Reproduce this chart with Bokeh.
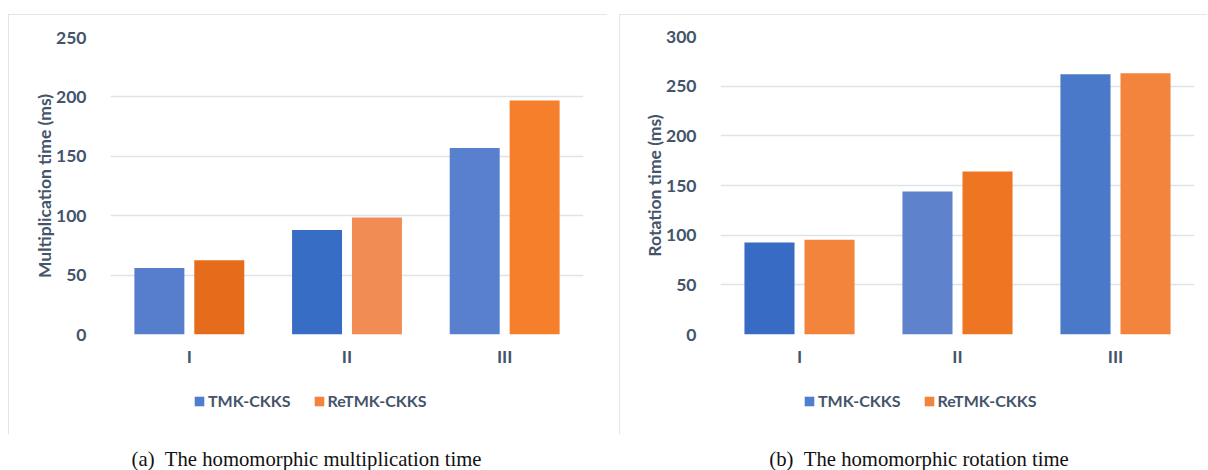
from bokeh.plotting import figure
from bokeh.models import (ColumnDataSource, FactorRange, Legend, LegendItem,
                          Label, FixedTicker)
from bokeh.transform import dodge
from bokeh.layouts import row, column
from bokeh.embed import file_html
from bokeh.resources import INLINE

# ---- data ----
categories = ["I", "II", "III"]
series_names = ["TMK-CKKS", "ReTMK-CKKS"]
mult_tmk = [56, 88, 157]
mult_retmk = [62.5, 98.5, 197]
rot_tmk = [92.5, 144, 262]
rot_retmk = [95.5, 164, 263]
mult_ticks = [0, 50, 100, 150, 200, 250]
rot_ticks = [0, 50, 100, 150, 200, 250, 300]
mult_ylabel = "Multiplication time (ms)"
rot_ylabel = "Rotation time (ms)"
mult_caption = "(a)\u00a0\u00a0The homomorphic multiplication time"
rot_caption = "(b)\u00a0\u00a0The homomorphic rotation time"

# ---- styles ----
TXT = "#44546A"
GRID = "#DEE2E9"
FONT = "Lato"
FSIZE = "17.5px"
LEG_FSIZE = "16px"
mult_blue = ["#577ECC", "#386DC5", "#5880CE"]
mult_orange = ["#E56C1A", "#F28C55", "#F57F2B"]
rot_blue = ["#386CC4", "#5E82CB", "#4B79C9"]
rot_orange = ["#F3843B", "#EE7622", "#F3843D"]
LEG_BLUE = "#4F7ECF"
LEG_ORANGE = "#F3843D"
BOX_STYLE = {"outline": "1.5px solid #DADEE5", "outline-offset": "-1.5px"}
MAIN_H = 360     # chart part of the box (page y 14..374)
LEG_H = 60       # legend strip inside the box (page y 374..434)


def chart(tmk, retmk, ticks, ylabel, blues, oranges,
          width, left_border, top_border, frame_w, frame_h):
    src = ColumnDataSource(dict(cat=categories, tmk=tmk, retmk=retmk,
                                cb=blues, co=oranges))
    p = figure(x_range=FactorRange(*categories), y_range=(0, ticks[-1]),
               frame_width=frame_w, frame_height=frame_h,
               min_border_left=left_border,
               min_border_right=width - left_border - frame_w,
               min_border_top=top_border,
               min_border_bottom=MAIN_H - top_border - frame_h,
               output_backend="svg", toolbar_location=None)
    p.outline_line_color = None
    p.vbar(x=dodge("cat", -0.19, range=p.x_range), top="tmk", width=0.317,
           source=src, fill_color="cb", line_color=None)
    p.vbar(x=dodge("cat", 0.19, range=p.x_range), top="retmk", width=0.317,
           source=src, fill_color="co", line_color=None)

    p.yaxis.ticker = FixedTicker(ticks=ticks)
    p.yaxis.axis_label = ylabel
    p.yaxis.axis_label_text_font = FONT
    p.yaxis.axis_label_text_font_style = "bold"
    p.yaxis.axis_label_text_font_size = FSIZE
    p.yaxis.axis_label_text_color = TXT
    p.yaxis.axis_label_standoff = -2
    for ax in (p.xaxis, p.yaxis):
        ax.axis_line_color = None
        ax.major_tick_line_color = None
        ax.minor_tick_line_color = None
        ax.major_label_text_font = FONT
        ax.major_label_text_font_style = "bold"
        ax.major_label_text_font_size = FSIZE
        ax.major_label_text_color = TXT
    p.yaxis.major_label_standoff = 18
    p.xaxis.major_label_standoff = 5
    p.xgrid.grid_line_color = None
    p.ygrid.grid_line_color = GRID
    p.ygrid.grid_line_width = 1.5
    return p


def legend_fig(width, leg_x):
    f = figure(frame_width=width, frame_height=LEG_H, x_range=(0, 1), y_range=(0, 1),
               min_border=0, x_axis_type=None, y_axis_type=None,
               output_backend="svg", toolbar_location=None)
    f.outline_line_color = None
    f.grid.visible = False
    # proxy renderers whose single point lies outside the visible range
    proxy = ColumnDataSource(dict(x=[5], top=[5]))
    r1 = f.vbar(x="x", top="top", width=0.1, source=proxy,
                fill_color=LEG_BLUE, line_color=None)
    r2 = f.vbar(x="x", top="top", width=0.1, source=proxy,
                fill_color=LEG_ORANGE, line_color=None)
    leg = Legend(items=[LegendItem(label=series_names[0], renderers=[r1]),
                        LegendItem(label=series_names[1], renderers=[r2])],
                 orientation="horizontal", location=(leg_x, 24),
                 border_line_color=None, background_fill_alpha=0,
                 label_text_font=FONT, label_text_font_style="bold",
                 label_text_font_size=LEG_FSIZE, label_text_color=TXT,
                 glyph_width=12, glyph_height=12, label_standoff=3,
                 spacing=22, padding=0, margin=0)
    f.add_layout(leg)
    return f


def caption_fig(text, width, margin_left, cx):
    c = figure(frame_width=width, frame_height=36, x_range=(0, width), y_range=(0, 36),
               min_border=0, x_axis_type=None, y_axis_type=None,
               output_backend="svg", toolbar_location=None)
    c.margin = (0, 0, 0, margin_left)
    c.grid.visible = False
    c.outline_line_color = None
    c.add_layout(Label(x=cx, y=12, text=text, text_align="center",
                       text_baseline="alphabetic",
                       text_font="Liberation Serif", text_font_size="20.7px",
                       text_color="#111111"))
    return c


p1 = chart(mult_tmk, mult_retmk, mult_ticks, mult_ylabel, mult_blue, mult_orange,
           599, 102, 23, 473, 297)
p2 = chart(rot_tmk, rot_retmk, rot_ticks, rot_ylabel, rot_blue, rot_orange,
           588, 101, 22, 474, 298)
l1 = legend_fig(599, 185)
l2 = legend_fig(588, 184)
box1 = column(p1, l1, margin=(14, 0, 0, 8), styles=BOX_STYLE)
box2 = column(p2, l2, margin=(14, 0, 0, 12), styles=BOX_STYLE)
c1 = caption_fig(mult_caption, 599, 8, 298)
c2 = caption_fig(rot_caption, 588, 12, 299.5)

layout = row(column(box1, c1), column(box2, c2))
open("out.html", "w").write(file_html(layout, INLINE))
